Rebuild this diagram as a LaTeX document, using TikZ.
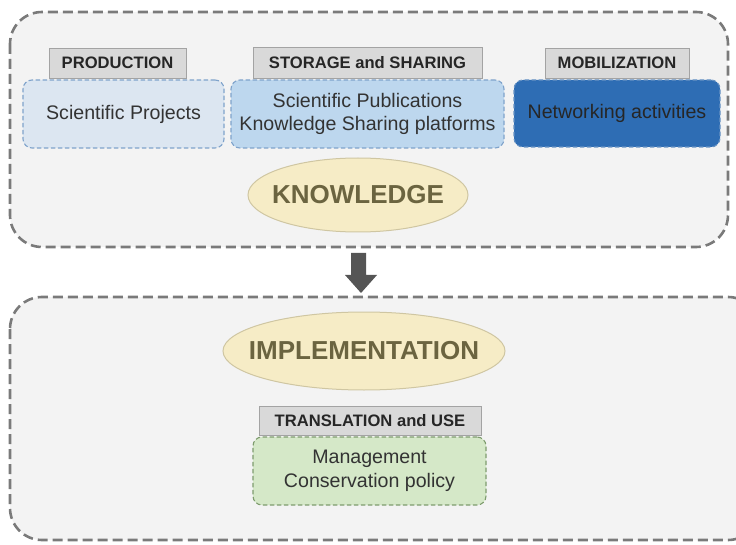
\documentclass[tikz,border=0pt]{standalone}
\usepackage{fontspec}
\setmainfont{Liberation Sans}
\usetikzlibrary{shapes.geometric}
\definecolor{panelfill}{HTML}{F3F3F3}
\definecolor{panelline}{HTML}{7A7A7A}
\definecolor{tagfill}{HTML}{D9D9D9}
\definecolor{tagline}{HTML}{A3A3A3}
\definecolor{prodfill}{HTML}{DCE6F1}
\definecolor{storefill}{HTML}{BDD7EE}
\definecolor{netfill}{HTML}{2E6DB4}
\definecolor{bluedash}{HTML}{7FA3CB}
\definecolor{greenfill}{HTML}{D5E8C8}
\definecolor{greendash}{HTML}{7E9C6E}
\definecolor{ovalfill}{HTML}{F6ECC6}
\definecolor{ovalline}{HTML}{CFC6A2}
\definecolor{ovaltext}{HTML}{6B6440}
\definecolor{arrowgray}{HTML}{555555}
\begin{document}
\begin{tikzpicture}[x=1pt,y=-1pt,
  panel/.style={draw=panelline, fill=panelfill, line width=2.6pt,
    dash pattern=on 10pt off 5pt, rounded corners=32pt},
  tag/.style={draw=tagline, fill=tagfill, line width=0.8pt, inner sep=0pt,
    font=\fontsize{16.6}{18}\selectfont\bfseries, text=black!85},
  itembox/.style={draw=bluedash, line width=1.1pt, dash pattern=on 4.5pt off 2.5pt,
    rounded corners=9pt, inner sep=0pt, align=center,
    font=\fontsize{19.6}{23.5}\selectfont, text=black!80},
  oval/.style={ellipse, draw=ovalline, fill=ovalfill, line width=1pt, inner sep=0pt,
    font=\fontsize{26}{28}\selectfont\bfseries, text=ovaltext}
]
\useasboundingbox (0,0) rectangle (736,545);

% outer panels
\draw[panel] (10,12) rectangle (728,247);
\draw[panel] (10,297) rectangle (760,540);

% knowledge panel: category tags and contents
\node[itembox, fill=prodfill, minimum width=201pt, minimum height=68pt]
  (proj) at (123.5,114) {Scientific Projects};
\node[tag, minimum width=137pt, minimum height=30pt] (prodtag) at (117.5,63) {PRODUCTION};

\node[itembox, fill=storefill, minimum width=273pt, minimum height=68pt]
  (pubs) at (367.5,114) {Scientific Publications\\Knowledge Sharing platforms};
\node[tag, minimum width=229pt, minimum height=31pt] (storetag) at (367.5,62.5) {STORAGE and SHARING};

\node[itembox, fill=netfill, draw=bluedash!70!netfill, minimum width=206pt, minimum height=67pt, text=black!85]
  (net) at (617,113.5) {Networking activities};
\node[tag, minimum width=144pt, minimum height=30pt] (mobtag) at (617,63) {MOBILIZATION};

\node[oval, minimum width=220pt, minimum height=74pt] (know) at (358,195) {\makebox[0pt]{KNOWLEDGE}};

% transition arrow
\fill[arrowgray] (351,253) -- (366,253) -- (366,275) -- (377,275) -- (361,293)
  -- (345,275) -- (351,275) -- cycle;

% implementation panel
\node[oval, minimum width=282pt, minimum height=78pt] (impl) at (364,351) {\makebox[0pt]{IMPLEMENTATION}};

\node[itembox, fill=greenfill, draw=greendash, minimum width=233pt, minimum height=68pt]
  (mgmt) at (369.5,471) {Management\\Conservation policy};
\node[tag, minimum width=222pt, minimum height=29pt] (transtag) at (370,420.5) {TRANSLATION and USE};
\end{tikzpicture}
\end{document}
